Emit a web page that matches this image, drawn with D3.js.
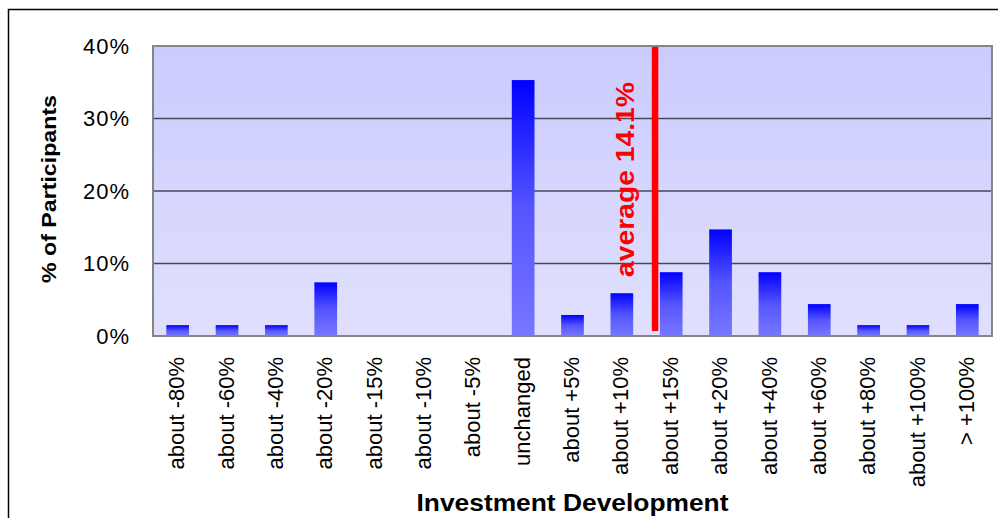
<!DOCTYPE html>
<html>
<head>
<meta charset="utf-8">
<script src="https://cdn.jsdelivr.net/npm/d3@7"></script>
<style>
  html, body { margin: 0; padding: 0; background: #fff; }
  svg { display: block; font-family: "Liberation Sans", Arial, sans-serif; }
</style>
</head>
<body>
<svg id="chart" width="998" height="518"></svg>
<script>
// Survey answers: expected development of the investment
const categories = ["about -80%", "about -60%", "about -40%", "about -20%", "about -15%",
  "about -10%", "about -5%", "unchanged", "about +5%", "about +10%", "about +15%",
  "about +20%", "about +40%", "about +60%", "about +80%", "about +100%", "> +100%"];
// Share of participants per answer (%)
const shares = [1.5, 1.5, 1.5, 7.4, 0, 0, 0, 35.3, 2.9, 5.9, 8.8, 14.7, 8.8, 4.4, 1.5, 1.5, 4.4];
const yTicks = [0, 10, 20, 30, 40];
const yTickLabels = ["0%", "10%", "20%", "30%", "40%"];
// Mean expected change and the two answer classes it falls between
const average = 14.1;
const averageBetween = ["about +10%", "about +15%"];
const averageBetweenValues = [10, 15];

const svg = d3.select("#chart");
const margin = { left: 153, right: 6, top: 46, bottom: 182 };
const W = 998, H = 518;
const x0 = margin.left, x1 = W - margin.right, y0 = H - margin.bottom, y1 = margin.top;

const x = d3.scaleBand().domain(categories).range([x0, x1]).paddingInner(0.54).paddingOuter(0.27);
const y = d3.scaleLinear().domain([0, 40]).range([y0, y1]);

const defs = svg.append("defs");
const bg = defs.append("linearGradient").attr("id", "plotBg").attr("x1", 0).attr("y1", 0).attr("x2", 0).attr("y2", 1);
bg.append("stop").attr("offset", "0").attr("stop-color", "#cbcbff");
bg.append("stop").attr("offset", "1").attr("stop-color", "#e0e0fd");
const barGrad = defs.append("linearGradient").attr("id", "barFill").attr("x1", 0).attr("y1", 0).attr("x2", 0).attr("y2", 1);
barGrad.append("stop").attr("offset", "0").attr("stop-color", "#0000ff");
barGrad.append("stop").attr("offset", "0.5").attr("stop-color", "#5555ff");
barGrad.append("stop").attr("offset", "1").attr("stop-color", "#7777ff");

// outer chart frame
svg.append("rect").attr("x", 8.5).attr("y", 9.5).attr("width", 1100).attr("height", 600)
  .attr("fill", "none").attr("stroke", "#000").attr("stroke-width", 1.5);

// plot area
svg.append("rect").attr("x", x0).attr("y", y1).attr("width", x1 - x0).attr("height", y0 - y1)
  .attr("fill", "url(#plotBg)");

// gridlines
svg.append("g").selectAll("line").data(yTicks.filter(t => t > 0 && t < 40)).join("line")
  .attr("x1", x0).attr("x2", x1).attr("y1", d => y(d)).attr("y2", d => y(d))
  .attr("stroke", "#464658").attr("stroke-width", 1.5);

// bars
svg.append("g").selectAll("rect").data(categories.map((c, i) => ({ c, v: shares[i] })).filter(d => d.v > 0))
  .join("rect")
  .attr("x", d => x(d.c)).attr("width", x.bandwidth())
  .attr("y", d => y(d.v)).attr("height", d => y(0) - y(d.v))
  .attr("fill", "url(#barFill)");

// plot border
svg.append("rect").attr("x", x0).attr("y", y1).attr("width", x1 - x0).attr("height", y0 - y1)
  .attr("fill", "none").attr("stroke", "#858585").attr("stroke-width", 2);

// y axis labels
const yAxis = d3.axisLeft(y).tickValues(yTicks).tickFormat((d, i) => yTickLabels[i]).tickSize(0).tickPadding(23);
const ya = svg.append("g").attr("transform", `translate(${x0},0)`).call(yAxis);
ya.select(".domain").remove();
ya.selectAll("text").attr("font-size", 22).attr("fill", "#000")
  .attr("font-family", "'Liberation Sans', Arial, sans-serif").attr("letter-spacing", "1px");

// x axis labels
const xAxis = d3.axisBottom(x).tickSize(0).tickPadding(0);
const xa = svg.append("g").attr("transform", `translate(0,${y0})`).call(xAxis);
xa.select(".domain").remove();
xa.selectAll("text")
  .attr("font-size", 22).attr("fill", "#000")
  .attr("font-family", "'Liberation Sans', Arial, sans-serif")
  .attr("text-anchor", "end")
  .attr("transform", "rotate(-90)")
  .attr("x", -21).attr("y", 0).attr("dy", "0.3em");

// average marker: placed in the gap between the two neighbouring answer bars
const frac = (average - averageBetweenValues[0]) / (averageBetweenValues[1] - averageBetweenValues[0]);
const gapL = x(averageBetween[0]) + x.bandwidth();
const gapR = x(averageBetween[1]);
const xAvg = gapL + frac * (gapR - gapL);
svg.append("line").attr("x1", xAvg).attr("x2", xAvg).attr("y1", y1 + 1).attr("y2", y0 - 5)
  .attr("stroke", "#ff0000").attr("stroke-width", 6.5);
svg.append("text")
  .attr("transform", `translate(${xAvg - 21},${y0 - 59}) rotate(-90)`)
  .attr("font-size", 25).attr("font-weight", "bold").attr("fill", "#ff0000")
  .attr("textLength", 195).attr("lengthAdjust", "spacingAndGlyphs")
  .text(`average ${average}%`);

// axis titles
svg.append("text").attr("transform", `translate(56,189) rotate(-90)`)
  .attr("text-anchor", "middle").attr("font-size", 20).attr("font-weight", "bold")
  .attr("textLength", 188).attr("lengthAdjust", "spacingAndGlyphs")
  .text("% of Participants");
svg.append("text").attr("x", (x0 + x1) / 2).attr("y", 511)
  .attr("text-anchor", "middle").attr("font-size", 23).attr("font-weight", "bold")
  .attr("textLength", 312).attr("lengthAdjust", "spacingAndGlyphs")
  .text("Investment Development");
</script>
</body>
</html>
